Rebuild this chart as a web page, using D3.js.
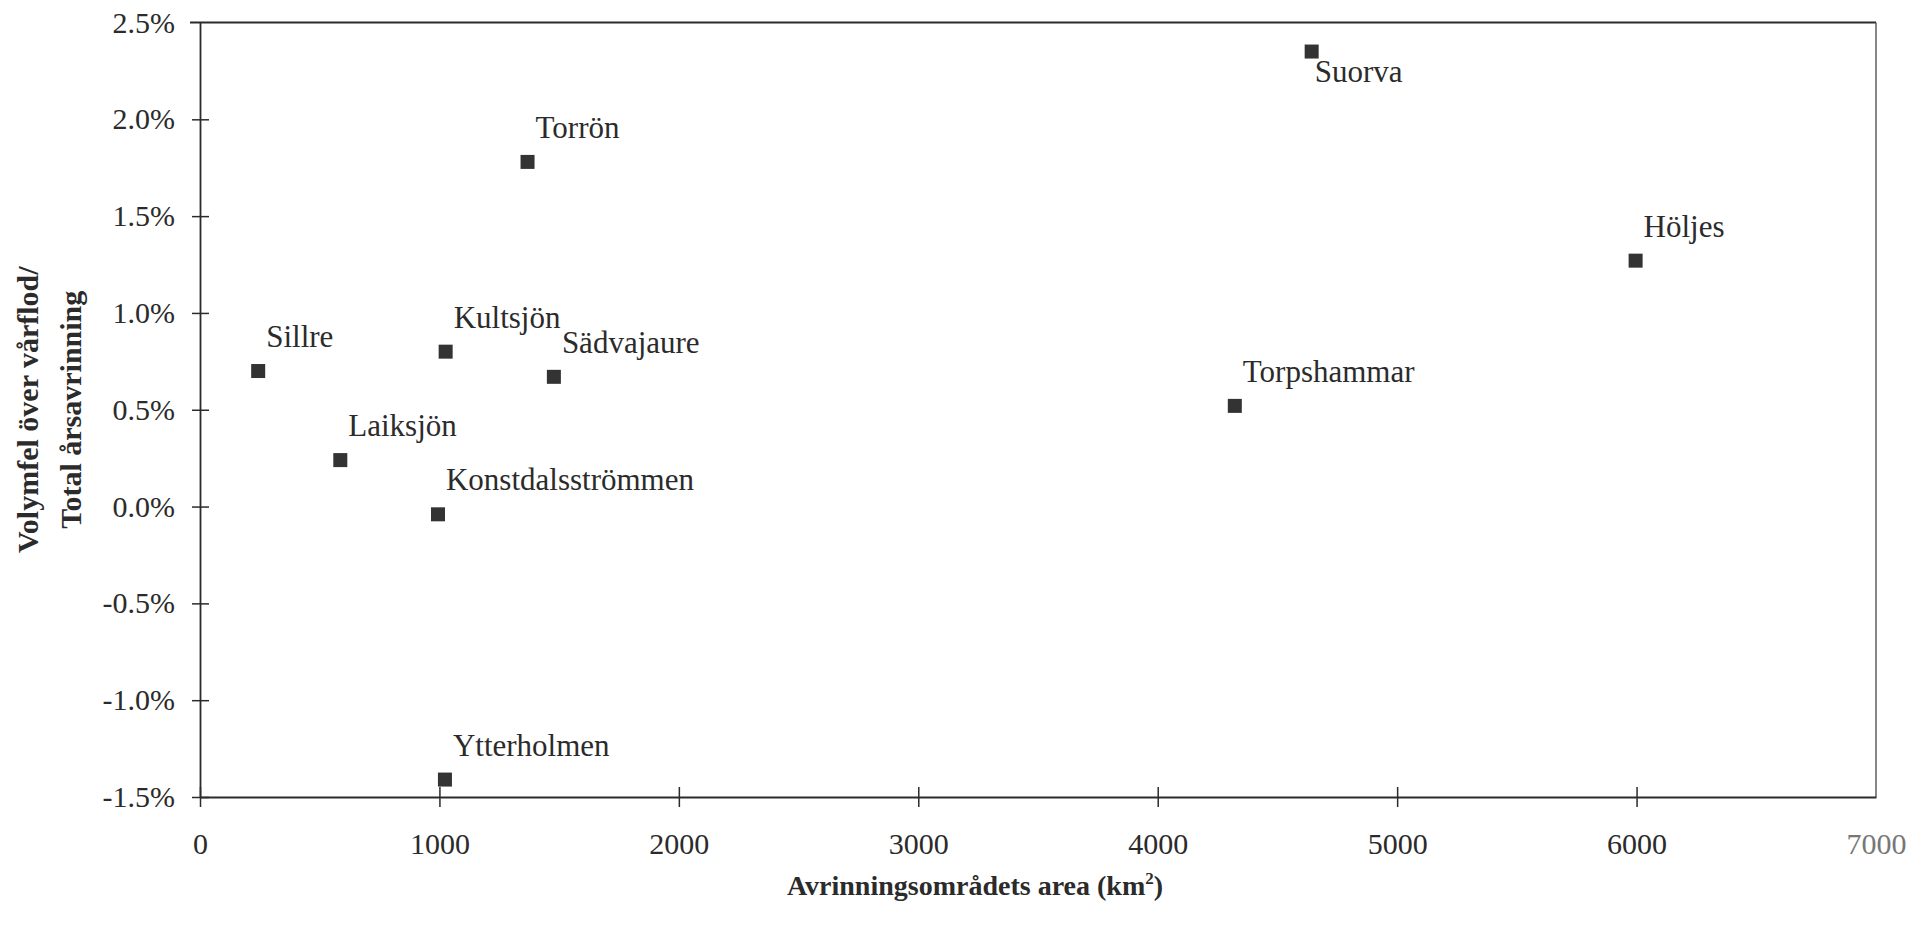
<!DOCTYPE html>
<html>
<head>
<meta charset="utf-8">
<script src="https://cdn.jsdelivr.net/npm/d3@7"></script>
<style>
  html, body { margin: 0; padding: 0; background: #fff; }
  svg { display: block; font-family: "Liberation Serif", "Times New Roman", serif; }
</style>
</head>
<body>
<div id="chart"></div>
<script>
// stations, catchment area (km2) and volume error / total annual runoff
const stations = ['Suorva', 'Torrön', 'Höljes', 'Kultsjön', 'Sillre', 'Sädvajaure',
  'Torpshammar', 'Laiksjön', 'Konstdalsströmmen', 'Ytterholmen']
const areas = [4643, 1368, 5996, 1026, 243, 1478, 4322, 586, 994, 1023]
const volErr = [0.0235, 0.0178, 0.0127, 0.0080, 0.0070, 0.0067, 0.0052, 0.0024, -0.0004, -0.0141]

const xTicks = [0, 1000, 2000, 3000, 4000, 5000, 6000, 7000]
const yTicks = [-0.015, -0.01, -0.005, 0, 0.005, 0.01, 0.015, 0.02, 0.025]

const xTitle = 'Avrinningsområdets area (km'
const yTitle = ['Volymfel över vårflod/', 'Total årsavrinning']

let width = 1932, height = 929
let margin = {top: 22.5, right: 56, bottom: 132, left: 200}
let ink = '#2b2b2b'

let svg = d3.select('#chart').append('svg')
  .attr('width', width)
  .attr('height', height)

let x = d3.scaleLinear()
  .domain([0, 7000])
  .range([margin.left, width - margin.right])

let y = d3.scaleLinear()
  .domain([-0.015, 0.025])
  .range([height - margin.bottom, margin.top])

let pct = d => (d * 100).toFixed(1) + '%'

// frame: top and right lines
svg.append('line')
  .attr('x1', x(0) - 10).attr('x2', x(7000))
  .attr('y1', y(0.025)).attr('y2', y(0.025))
  .attr('stroke', ink).attr('stroke-width', 1.8)
svg.append('line')
  .attr('x1', x(7000)).attr('x2', x(7000))
  .attr('y1', y(0.025)).attr('y2', y(-0.015))
  .attr('stroke', '#555').attr('stroke-width', 1.4)

// x axis
let xAxis = svg.append('g')
  .attr('transform', `translate(0,${y(-0.015)})`)
  .call(d3.axisBottom(x).tickValues(xTicks).tickFormat(d3.format('d'))
    .tickSizeInner(10).tickSizeOuter(0).tickPadding(26))
xAxis.select('.domain').attr('stroke', ink).attr('stroke-width', 1.8)
xAxis.selectAll('.tick line')
  .attr('y1', -10).attr('y2', 10)
  .attr('stroke', ink).attr('stroke-width', 1.5)
  .filter(d => d === 7000).remove()
xAxis.selectAll('.tick text')
  .attr('font-size', 30).attr('fill', d => d === 7000 ? '#777' : ink)
  .attr('font-family', 'Liberation Serif')

// y axis
let yAxis = svg.append('g')
  .attr('transform', `translate(${x(0)},0)`)
  .call(d3.axisLeft(y).tickValues(yTicks).tickFormat(pct)
    .tickSizeInner(8).tickSizeOuter(0).tickPadding(17))
yAxis.select('.domain').attr('stroke', ink).attr('stroke-width', 1.8)
yAxis.selectAll('.tick line')
  .attr('x1', -8).attr('x2', 9)
  .attr('stroke', ink).attr('stroke-width', 1.5)
  .filter(d => d === 0.025).remove()
yAxis.selectAll('.tick text')
  .attr('font-size', 30).attr('fill', ink)
  .attr('font-family', 'Liberation Serif')

// axis titles
let xt = svg.append('text')
  .attr('x', 975).attr('y', 895)
  .attr('text-anchor', 'middle')
  .attr('font-size', 28).attr('font-weight', 'bold').attr('fill', ink)
  .text(xTitle)
xt.append('tspan').attr('font-size', 17).attr('dy', -11).text('2')
xt.append('tspan').attr('dy', 11).text(')')

let ymid = (y(0.025) + y(-0.015)) / 2
svg.append('g')
  .attr('transform', `translate(38,${ymid}) rotate(-90)`)
  .selectAll('text')
  .data(yTitle)
  .join('text')
  .attr('x', 0)
  .attr('y', (d, i) => i * 43)
  .attr('text-anchor', 'middle')
  .attr('font-size', 30).attr('font-weight', 'bold').attr('fill', ink)
  .text(d => d)

// points
let pts = stations.map((s, i) => ({name: s, area: areas[i], err: volErr[i]}))
let size = 14

svg.append('g').selectAll('rect')
  .data(pts)
  .join('rect')
  .attr('x', d => x(d.area) - size / 2)
  .attr('y', d => y(d.err) - size / 2)
  .attr('width', size)
  .attr('height', size)
  .attr('fill', '#333')

svg.append('g').selectAll('text')
  .data(pts)
  .join('text')
  .attr('x', d => x(d.area) + (d.name === 'Suorva' ? 3 : 8))
  .attr('y', d => y(d.err) + (d.name === 'Suorva' ? 30 : -24))
  .attr('font-size', 31).attr('fill', ink)
  .text(d => d.name)
</script>
</body>
</html>
